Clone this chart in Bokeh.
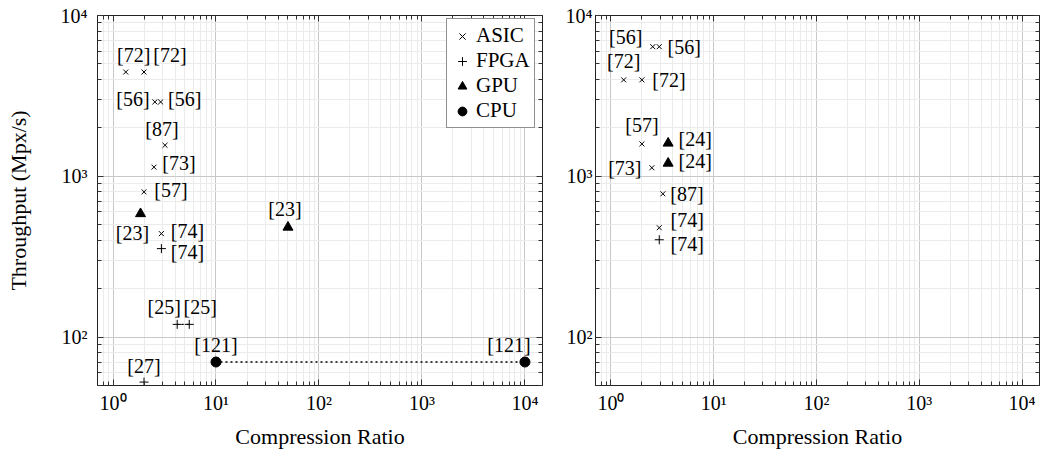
from bokeh.plotting import figure
from bokeh.layouts import row
from bokeh.models import (ColumnDataSource, FixedTicker, LogAxis, Legend, LegendItem,
                          CustomJSTickFormatter, Range1d)
from bokeh.core.properties import value
from bokeh.embed import file_html
from bokeh.resources import INLINE

FONT = "Liberation Serif"

# ---------------- axis texts ----------------
x_ticks = [1, 10, 100, 1000, 10000]
x_tick_labels = ["10⁰", "10¹", "10²", "10³", "10⁴"]
y_ticks = [100, 1000, 10000]
y_tick_labels = ["10²", "10³", "10⁴"]
x_title = "Compression Ratio"
y_title = "Throughput (Mpx/s)"
series_names = ["ASIC", "FPGA", "GPU", "CPU"]

# ---------------- left panel data ----------------
L_asic_x = [1.33, 2.0, 2.55, 2.9, 3.2, 2.5, 2.0, 2.95]
L_asic_y = [4450, 4450, 2900, 2900, 1560, 1140, 800, 440]
L_asic_ref = ["[72]", "[72]", "[56]", "[56]", "[87]", "[73]", "[57]", "[74]"]

L_fpga_x = [2.95, 4.2, 5.5, 2.0]
L_fpga_y = [355, 120, 120, 52.5]
L_fpga_ref = ["[74]", "[25]", "[25]", "[27]"]

L_gpu_x = [1.85, 50]
L_gpu_y = [585, 482]
L_gpu_ref = ["[23]", "[23]"]

L_cpu_x = [10, 10000]
L_cpu_y = [70, 70]
L_cpu_ref = ["[121]", "[121]"]

# ---------------- right panel data ----------------
R_asic_x = [2.55, 2.95, 1.33, 2.0, 2.0, 2.5, 3.2, 2.95]
R_asic_y = [6400, 6400, 3980, 3980, 1590, 1130, 778, 479]
R_asic_ref = ["[56]", "[56]", "[72]", "[72]", "[57]", "[73]", "[87]", "[74]"]

R_fpga_x = [2.95]
R_fpga_y = [403]
R_fpga_ref = ["[74]"]

R_gpu_x = [3.6, 3.6]
R_gpu_y = [1606, 1205]
R_gpu_ref = ["[24]", "[24]"]

# ---------------- label placement (screen px offsets, style only) ----------------
L_asic_off = [(8, -17), (26, -17), (-22, -3), (24, -3), (-3, -16), (25, -4), (27, -2), (26, -3)]
L_fpga_off = [(26, 3), (-13, -17), (11, -17), (0, -16)]
L_gpu_off = [(-8, 19), (-3, -18)]
L_cpu_off = [(0, -17), (-16, -17)]
R_asic_off = [(-27, -10), (25, 0), (0, -19), (27, 0), (0, -19), (-27, 0), (24, 0), (28, -8)]
R_fpga_off = [(28, 4)]
R_gpu_off = [(27, -4), (27, -2)]


def minor_list(e0, e1):
    return [m * 10 ** e for e in range(e0, e1 + 1) for m in range(2, 10)]


def make_fig(width, b_left, b_right, ylab_standoff, yaxis_label, y_label_standoff):
    p = figure(width=width, height=452, x_axis_type="log", y_axis_type="log",
               x_range=Range1d(0.707, 14800), y_range=Range1d(50, 10000),
               output_backend="svg", toolbar_location=None,
               min_border_left=b_left, min_border_right=b_right,
               min_border_top=15, min_border_bottom=67)
    p.background_fill_color = "white"
    p.border_fill_color = "white"
    p.outline_line_color = "#222222"
    p.outline_line_width = 1

    xt = FixedTicker(ticks=x_ticks, minor_ticks=minor_list(-1, 4))
    yt = FixedTicker(ticks=y_ticks, minor_ticks=minor_list(1, 3))

    for g, t in ((p.xgrid, xt), (p.ygrid, yt)):
        g.ticker = t
        g.grid_line_color = "#c8c8c8"
        g.grid_line_width = 1
        g.minor_grid_line_color = "#ebebeb"
        g.minor_grid_line_width = 1

    def style_axis(ax):
        ax.axis_line_color = "#222222"
        ax.major_tick_line_color = "#333333"
        ax.minor_tick_line_color = "#333333"
        ax.major_tick_in = 6
        ax.major_tick_out = 0
        ax.minor_tick_in = 4
        ax.minor_tick_out = 0
        ax.major_label_text_font = FONT
        ax.major_label_text_font_size = "20px"
        ax.major_label_text_color = "black"
        ax.axis_label_text_font = FONT
        ax.axis_label_text_font_size = "22px"
        ax.axis_label_text_font_style = "normal"
        ax.axis_label_text_color = "black"

    xa = p.xaxis[0]
    xa.ticker = xt
    xa.major_label_overrides = dict(zip(x_ticks, x_tick_labels))
    style_axis(xa)
    xa.major_label_standoff = 6
    xa.axis_label = x_title
    xa.axis_label_standoff = 7

    ya = p.yaxis[0]
    ya.ticker = yt
    ya.major_label_overrides = dict(zip(y_ticks, y_tick_labels))
    style_axis(ya)
    ya.major_label_standoff = y_label_standoff
    if yaxis_label:
        ya.axis_label = y_title
        ya.axis_label_standoff = ylab_standoff

    for loc, t in (("above", xt), ("right", yt)):
        ax = LogAxis(ticker=t, formatter=CustomJSTickFormatter(code="return ''"))
        style_axis(ax)
        ax.major_label_standoff = 0
        p.add_layout(ax, loc)
    return p


def add_labels(p, xs, ys, refs, offs):
    src = ColumnDataSource(dict(x=xs, y=ys, text=refs,
                                dx=[o[0] for o in offs], dy=[o[1] for o in offs]))
    p.text(x="x", y="y", text="text", x_offset="dx", y_offset="dy", source=src,
           text_align="center", text_baseline="middle",
           text_font=value(FONT), text_font_size="20px", text_color="black")


MARK = dict(ASIC=("x", 7), FPGA=("cross", 9), GPU=("triangle", 10), CPU=("circle", 10))


def add_series(p, name, xs, ys):
    m, s = MARK[name]
    return p.scatter(xs, ys, marker=m, size=s, line_color="black", fill_color="black",
                     line_width=1)


DOT = dict(line_color="black", line_width=1.4, line_dash="1 4", line_cap="round")

# ---------------- left panel ----------------
p1 = make_fig(555, 97, 13, 27, True, 10)
p1.line(L_cpu_x, L_cpu_y, **DOT)
p1.line(L_fpga_x[1:3], L_fpga_y[1:3], **DOT)
r_a = add_series(p1, "ASIC", L_asic_x, L_asic_y)
r_f = add_series(p1, "FPGA", L_fpga_x, L_fpga_y)
r_g = add_series(p1, "GPU", L_gpu_x, L_gpu_y)
r_c = add_series(p1, "CPU", L_cpu_x, L_cpu_y)
add_labels(p1, L_asic_x, L_asic_y, L_asic_ref, L_asic_off)
add_labels(p1, L_fpga_x, L_fpga_y, L_fpga_ref, L_fpga_off)
add_labels(p1, L_gpu_x, L_gpu_y, L_gpu_ref, L_gpu_off)
add_labels(p1, L_cpu_x, L_cpu_y, L_cpu_ref, L_cpu_off)

legend = Legend(items=[LegendItem(label=n, renderers=[r]) for n, r in
                       zip(series_names, [r_a, r_f, r_g, r_c])],
                location=(349, 257), margin=0, padding=4, spacing=0,
                glyph_width=22, glyph_height=22, label_height=22, label_standoff=3,
                label_text_font=FONT, label_text_font_size="21px",
                label_text_color="black",
                border_line_color="#222222", border_line_width=1,
                background_fill_color="white", background_fill_alpha=1)
p1.add_layout(legend)

# ---------------- right panel ----------------
p2 = make_fig(488, 40, 4, 0, False, 3)
add_series(p2, "ASIC", R_asic_x, R_asic_y)
add_series(p2, "FPGA", R_fpga_x, R_fpga_y)
add_series(p2, "GPU", R_gpu_x, R_gpu_y)
add_labels(p2, R_asic_x, R_asic_y, R_asic_ref, R_asic_off)
add_labels(p2, R_fpga_x, R_fpga_y, R_fpga_ref, R_fpga_off)
add_labels(p2, R_gpu_x, R_gpu_y, R_gpu_ref, R_gpu_off)

layout = row(p1, p2, spacing=0)
open("out.html", "w").write(file_html(layout, INLINE))
